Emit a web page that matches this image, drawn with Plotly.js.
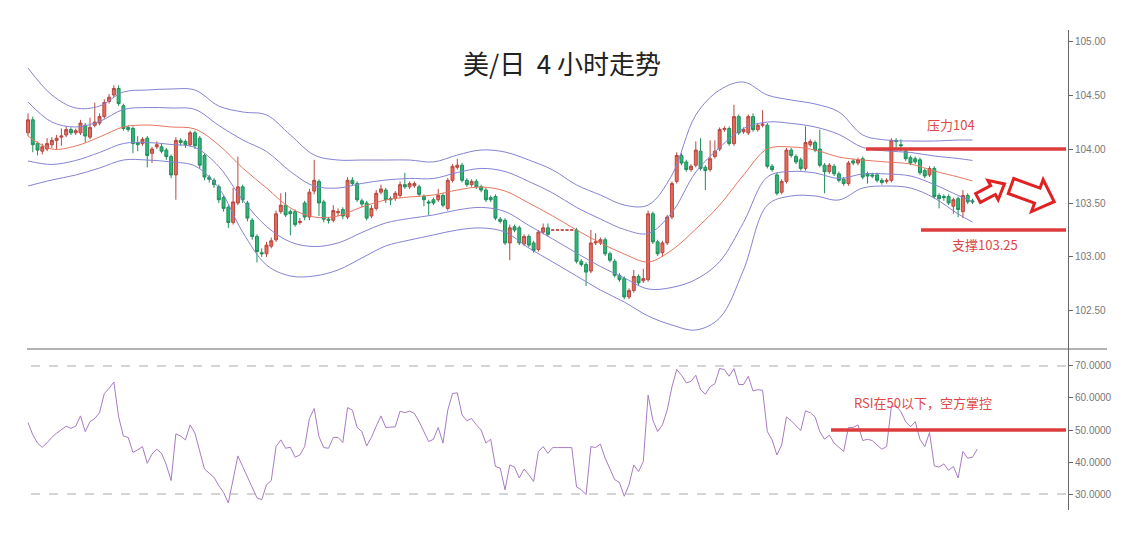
<!DOCTYPE html>
<html><head><meta charset="utf-8">
<script src="https://cdn.plot.ly/plotly-3.0.1.min.js"></script>
<style>html,body{margin:0;padding:0;background:#fff;} #chart{width:1127px;height:546px;}</style>
</head><body><div id="chart"></div>
<script>
// ---- 4h USD/JPY candles ----
const openP = [104.15,104.27,104.05,103.98,104.00,104.04,104.08,104.11,104.13,104.18,
104.15,104.15,104.22,104.11,104.22,104.24,104.30,104.44,104.50,104.56,
104.40,104.20,104.19,104.06,104.05,104.10,103.96,104.02,104.02,103.99,
103.93,103.76,104.08,104.07,104.04,104.15,104.10,103.94,103.74,103.71,
103.65,103.55,103.46,103.32,103.50,103.65,103.50,103.34,103.19,103.04,
103.03,103.10,103.16,103.42,103.48,103.42,103.42,103.32,103.50,103.37,
103.61,103.70,103.51,103.35,103.34,103.41,103.44,103.37,103.71,103.68,
103.52,103.50,103.38,103.45,103.60,103.62,103.54,103.54,103.57,103.67,
103.65,103.66,103.65,103.56,103.51,103.53,103.53,103.57,103.45,103.71,
103.83,103.85,103.71,103.67,103.70,103.65,103.62,103.55,103.56,103.35,
103.34,103.13,103.28,103.27,103.12,103.19,103.13,103.07,103.23,103.27,
103.25,103.25,103.25,103.25,103.25,103.25,102.96,102.93,102.87,103.13,
103.13,103.16,103.03,102.96,102.83,102.80,102.63,102.69,102.82,102.78,
102.79,103.40,103.14,103.04,103.13,103.37,103.70,103.94,103.88,103.81,
103.85,103.98,103.83,103.81,103.93,104.00,104.18,104.19,104.05,104.30,
104.16,104.15,104.30,104.18,104.22,104.22,103.84,103.76,103.60,103.70,
103.99,103.93,103.90,103.82,104.04,104.06,104.00,103.85,103.79,103.84,
103.77,103.72,103.68,103.89,103.87,103.91,103.77,103.76,103.76,103.71,
103.70,103.71,104.08,104.04,103.98,103.92,103.91,103.90,103.80,103.76,
103.82,103.57,103.56,103.56,103.47,103.54,103.42,103.57,103.52];
const highP = [104.33,104.30,104.07,104.05,104.10,104.11,104.13,104.19,104.21,104.20,
104.19,104.27,104.24,104.29,104.43,104.33,104.46,104.51,104.59,104.59,
104.42,104.22,104.21,104.12,104.11,104.12,104.02,104.07,104.05,104.01,
103.95,104.11,104.10,104.09,104.17,104.17,104.12,103.96,103.76,103.73,
103.67,103.57,103.48,103.64,103.93,103.67,103.52,103.36,103.21,103.08,
103.14,103.18,103.43,103.59,103.60,103.44,103.44,103.36,103.52,103.63,
103.90,103.72,103.53,103.37,103.48,103.45,103.46,103.74,103.74,103.70,
103.54,103.52,103.48,103.62,103.67,103.64,103.56,103.61,103.70,103.78,
103.70,103.70,103.67,103.58,103.53,103.55,103.63,103.59,103.73,103.86,
103.91,103.87,103.73,103.72,103.72,103.67,103.64,103.57,103.58,103.37,
103.36,103.30,103.30,103.29,103.21,103.21,103.15,103.25,103.31,103.31,
103.25,103.25,103.25,103.25,103.25,103.27,102.98,102.95,103.25,103.22,
103.18,103.18,103.05,102.98,102.85,102.82,102.71,102.88,102.84,102.89,
103.43,103.42,103.16,103.15,103.39,103.70,103.97,103.96,103.90,103.86,
104.07,104.10,103.85,104.08,104.08,104.20,104.21,104.21,104.41,104.32,
104.20,104.32,104.33,104.24,104.36,104.24,103.86,103.78,103.72,104.01,
104.01,103.95,103.92,104.21,104.09,104.08,104.18,103.87,103.87,103.86,
103.79,103.74,103.89,103.91,103.92,103.93,103.79,103.78,103.78,103.73,
103.73,104.10,104.10,104.09,104.00,103.94,103.93,103.92,103.82,103.84,
103.84,103.59,103.58,103.58,103.55,103.56,103.62,103.59,103.54];
const lowP = [104.12,103.97,103.94,103.95,103.98,104.01,103.99,104.03,104.11,104.13,
104.13,104.13,104.06,104.09,104.20,104.22,104.28,104.42,104.48,104.40,
104.17,104.16,103.96,103.98,104.03,103.83,103.87,104.00,103.96,103.90,
103.73,103.53,104.03,104.01,104.02,104.00,103.82,103.71,103.69,103.64,
103.50,103.42,103.27,103.30,103.48,103.50,103.33,103.16,102.95,103.00,
103.00,103.08,103.14,103.40,103.37,103.20,103.28,103.30,103.34,103.34,
103.58,103.38,103.32,103.31,103.32,103.38,103.35,103.35,103.66,103.51,
103.46,103.34,103.36,103.43,103.58,103.50,103.48,103.52,103.55,103.63,
103.63,103.64,103.56,103.47,103.39,103.48,103.51,103.46,103.43,103.69,
103.81,103.69,103.65,103.65,103.63,103.60,103.51,103.51,103.34,103.31,
103.11,102.97,103.23,103.11,103.10,103.09,103.04,103.05,103.21,103.19,
103.25,103.25,103.25,103.25,103.25,102.94,102.91,102.73,102.85,103.11,
103.11,103.01,102.95,102.81,102.77,102.61,102.61,102.67,102.74,102.76,
102.77,103.12,103.01,103.00,103.11,103.35,103.68,103.85,103.79,103.79,
103.83,103.80,103.62,103.79,103.91,103.98,104.16,104.03,104.03,104.13,
104.14,104.13,104.16,104.16,104.20,103.82,103.79,103.57,103.58,103.68,
103.92,103.86,103.80,103.80,104.02,103.97,103.83,103.59,103.77,103.75,
103.69,103.66,103.66,103.85,103.85,103.72,103.68,103.73,103.69,103.67,
103.68,103.69,103.99,103.98,103.89,103.85,103.86,103.76,103.73,103.74,
103.54,103.45,103.52,103.48,103.40,103.37,103.36,103.49,103.49];
const closeP = [104.27,104.04,103.99,104.02,104.05,104.08,104.10,104.12,104.18,104.15,
104.17,104.24,104.12,104.20,104.25,104.30,104.43,104.48,104.56,104.42,
104.19,104.18,104.05,104.04,104.09,103.94,104.00,104.04,103.98,103.93,
103.76,104.08,104.06,104.04,104.15,104.03,103.85,103.74,103.72,103.67,
103.53,103.45,103.32,103.51,103.65,103.53,103.36,103.19,103.05,103.03,
103.11,103.15,103.40,103.48,103.39,103.40,103.30,103.33,103.37,103.60,
103.71,103.50,103.35,103.34,103.43,103.42,103.38,103.71,103.68,103.53,
103.49,103.36,103.45,103.59,103.63,103.53,103.53,103.59,103.67,103.65,
103.68,103.68,103.58,103.53,103.50,103.50,103.57,103.48,103.71,103.84,
103.85,103.71,103.67,103.70,103.65,103.62,103.53,103.53,103.36,103.33,
103.13,103.27,103.25,103.13,103.19,103.11,103.06,103.23,103.27,103.21,
103.25,103.25,103.25,103.25,103.25,102.96,102.93,102.86,103.13,103.14,
103.16,103.03,102.97,102.83,102.79,102.63,102.69,102.82,102.76,102.80,
103.40,103.14,103.03,103.13,103.37,103.68,103.94,103.87,103.81,103.84,
103.99,103.82,103.80,103.91,103.98,104.18,104.19,104.05,104.30,104.15,
104.18,104.30,104.18,104.22,104.23,103.84,103.81,103.59,103.70,103.99,
103.94,103.88,103.82,104.06,104.07,103.99,103.85,103.79,103.85,103.77,
103.71,103.68,103.87,103.87,103.90,103.74,103.75,103.75,103.71,103.69,
103.71,104.08,104.07,104.03,103.91,103.87,103.88,103.78,103.75,103.82,
103.56,103.54,103.55,103.50,103.53,103.44,103.57,103.51,103.51];

// ---- bands (sampled at candle indices) ----
const bandIdx = [0,5,10,15,20,25,30,35,40,45,50,55,60,65,70,75,80,85,90,95,100,105,110,115,120,125,130,135,140,145,150,155,160,165,170,175,180,185,190,195,198];
const bbUpper2 = [104.750,104.500,104.380,104.398,104.528,104.546,104.556,104.546,104.398,104.343,104.315,104.130,103.944,103.898,103.898,103.898,103.898,103.880,103.944,103.991,103.972,103.898,103.806,103.667,103.574,103.481,103.481,103.759,104.315,104.546,104.620,104.500,104.454,104.417,104.343,104.130,104.083,104.074,104.074,104.083,104.083];
const bbUpper1 = [104.435,104.250,104.204,104.255,104.366,104.384,104.380,104.366,104.218,104.084,103.977,103.792,103.657,103.639,103.681,103.713,103.727,103.727,103.782,103.820,103.792,103.699,103.593,103.459,103.352,103.255,103.218,103.412,103.787,104.014,104.190,104.250,104.237,104.204,104.135,104.014,103.982,103.968,103.935,103.912,103.894];
const bbMid = [104.120,104.000,104.028,104.111,104.204,104.222,104.204,104.185,104.037,103.824,103.639,103.454,103.370,103.380,103.463,103.528,103.556,103.574,103.620,103.648,103.611,103.500,103.380,103.250,103.130,103.028,102.954,103.065,103.259,103.481,103.759,104.000,104.019,103.991,103.926,103.898,103.880,103.861,103.796,103.741,103.704];
const bbLower1 = [103.889,103.857,103.894,103.968,104.051,104.060,104.042,104.014,103.838,103.528,103.283,103.139,103.097,103.130,103.227,103.315,103.357,103.389,103.435,103.459,103.421,103.292,103.167,103.037,102.912,102.806,102.704,102.718,102.792,102.958,103.320,103.741,103.792,103.778,103.727,103.769,103.769,103.750,103.671,103.570,103.514];
const bbLower2 = [103.657,103.713,103.759,103.824,103.898,103.898,103.880,103.843,103.639,103.231,102.926,102.824,102.824,102.880,102.991,103.102,103.157,103.204,103.250,103.269,103.231,103.083,102.954,102.824,102.694,102.583,102.454,102.370,102.324,102.435,102.880,103.481,103.565,103.565,103.528,103.639,103.657,103.639,103.546,103.398,103.324];

// ---- RSI ----
const rsi = [52.3,48.5,45.9,44.6,46,47.7,49,50,51.2,50.5,
51.2,54.4,49.5,52.6,53.6,55.4,61.4,63,65,54.1,
48.1,47.7,43,43.8,44.8,39.6,42.5,44,42.7,39.1,
34.2,48.8,48.1,46.9,51.6,49,43.8,37.8,36.5,35.2,
32.6,30.5,27.2,34.5,41.9,38.6,35.3,31.6,28.8,28.2,
32.9,34.2,44.8,46.9,44.3,44.6,41.5,42.2,44.8,53.6,
56.7,47.9,44.5,44.3,47.7,47.7,46.1,57,56.2,50.8,
49.5,45,47.7,51.2,54.4,50.8,51,51,55.9,55.4,
55.9,55.2,52.6,49.5,46.4,47.1,50.8,45.9,56.2,61.4,
61.6,54.7,52.9,53.6,51.6,50,45.9,47.1,38.6,38.1,
31.3,39.1,38.4,35,37.8,36,33.9,43.3,44.8,42.7,
44.5,44.5,44.5,44.5,44.5,32.2,31.3,29.8,44.8,44.5,
45.6,41.2,38.1,34.5,33.6,29.3,32.9,39.1,37,40.2,
60.9,53.1,49.5,51.6,56.2,63.5,68.9,67.1,64.7,65.2,
67.1,62.6,61.2,63.5,64.5,69.2,68.9,66.8,69.2,64.2,
64.2,66.8,62.2,62.6,62.4,49.5,46.9,42.2,45.3,54.1,
52.9,51.2,49.8,56,55.4,54.1,49.5,47.1,48.4,45.9,
44.6,43.3,50.8,50.8,51.6,46.7,47.1,46.7,45.3,44,
44.8,57.3,57.5,55.7,52.6,51,52.6,47.1,44.8,49.2,
38.8,38.4,39.4,37.4,38.6,35,43.3,41.2,41.5,44];

const priceTicks = [102.5,103.0,103.5,104.0,104.5,105.0];
const rsiTicks = [30,40,50,60,70];
const resistance = 104.00, support = 103.25, rsiMid = 50;
const titleText = '美/日  4 小时走势';
const resText = '压力104', supText = '支撑103.25', rsiText = 'RSI在50以下，空方掌控';

const idx = closeP.map((_, i) => i);
const rsiIdx = rsi.map((_, i) => i);

// geometry
const W = 1127, H = 546, mL = 0, mR = 59, mT = 30, mB = 36;
const PW = W - mL - mR, PH = H - mT - mB;
const xRange = [-5.87, 218.03];
const splitY = 349;
const splitFrac = (H - mB - splitY) / PH;
const px2paperX = px => (px - mL) / PW;
const px2paperY = py => (H - mB - py) / PH;

const bandLine = (y, color, name) => ({
  type: 'scatter', mode: 'lines', x: bandIdx, y: y, xaxis: 'x', yaxis: 'y',
  line: {color: color, width: 1, shape: 'spline', smoothing: 1.0}, hoverinfo: 'skip', name: name
});
const purple = '#8583d3';

const traces = [
  bandLine(bbUpper2, purple, 'u2'),
  bandLine(bbUpper1, purple, 'u1'),
  bandLine(bbMid, '#e5765f', 'mid'),
  bandLine(bbLower1, purple, 'l1'),
  bandLine(bbLower2, purple, 'l2'),
  {
    type: 'candlestick', x: idx, open: openP, high: highP, low: lowP, close: closeP,
    xaxis: 'x', yaxis: 'y', whiskerwidth: 0,
    increasing: {line: {color: '#b9473f', width: 1}, fillcolor: '#e46a5e'},
    decreasing: {line: {color: '#1f8f5a', width: 1}, fillcolor: '#2fb57b'},
    hoverinfo: 'skip'
  },
  {
    type: 'scatter', mode: 'lines', x: rsiIdx, y: rsi, xaxis: 'x', yaxis: 'y2',
    line: {color: '#a77cc2', width: 1}, hoverinfo: 'skip'
  }
];

function arrowPath(tx, ty, angDeg, L, h, Hh, Lh) {
  const a = angDeg * Math.PI / 180, c = Math.cos(a), s = Math.sin(a);
  const pts = [[0,-h],[L-Lh,-h],[L-Lh,-Hh],[L,0],[L-Lh,Hh],[L-Lh,h],[0,h]];
  return pts.map((p, k) => {
    const X = tx + p[0]*c - p[1]*s, Y = ty + p[0]*s + p[1]*c;
    return (k ? 'L' : 'M') + px2paperX(X).toFixed(5) + ',' + px2paperY(Y).toFixed(5);
  }).join(' ') + ' Z';
}

const red = '#dc3c3c';
const shapes = [
  {type:'line', xref:'paper', yref:'paper', x0: px2paperX(27), x1: px2paperX(1107), y0: splitFrac, y1: splitFrac, line:{color:'#666', width:1}},
  {type:'line', xref:'paper', yref:'y2', x0: px2paperX(31), x1: 1, y0: 70, y1: 70, line:{color:'#aaa', width:1, dash:'dash'}},
  {type:'line', xref:'paper', yref:'y2', x0: px2paperX(31), x1: 1, y0: 30, y1: 30, line:{color:'#aaa', width:1, dash:'dash'}},
  {type:'line', xref:'paper', yref:'y', x0: px2paperX(866), x1: px2paperX(1066), y0: resistance, y1: resistance, line:{color:red, width:3.5}},
  {type:'line', xref:'paper', yref:'y', x0: px2paperX(921), x1: px2paperX(1066), y0: support, y1: support, line:{color:red, width:3.5}},
  {type:'line', xref:'paper', yref:'y2', x0: px2paperX(831), x1: px2paperX(1066), y0: rsiMid, y1: rsiMid, line:{color:red, width:3.5}},
  {type:'path', xref:'paper', yref:'paper', path: arrowPath(978, 198, -28, 30, 5, 11, 13), line:{color:'#e02222', width:3}, fillcolor:'rgba(255,255,255,0.9)'},
  {type:'path', xref:'paper', yref:'paper', path: arrowPath(1011, 186, 20, 46, 8, 17, 18), line:{color:'#e02222', width:3}, fillcolor:'rgba(255,255,255,0.9)'}
];

const cjk = '"Noto Sans CJK SC", "Noto Sans", sans-serif';
const annotations = [
  {xref:'paper', yref:'paper', x: px2paperX(951), y: px2paperY(125), text: resText, showarrow:false, xanchor:'center', yanchor:'middle', font:{family:cjk, size:13, color:'#e04848'}},
  {xref:'paper', yref:'paper', x: px2paperX(985), y: px2paperY(245), text: supText, showarrow:false, xanchor:'center', yanchor:'middle', font:{family:cjk, size:13, color:'#e04848'}},
  {xref:'paper', yref:'paper', x: px2paperX(923), y: px2paperY(402), text: rsiText, showarrow:false, xanchor:'center', yanchor:'middle', font:{family:cjk, size:13, color:'#e04848'}}
];

const axisCommon = {
  side:'right', anchor:'x', showline:true, linecolor:'#666', linewidth:1,
  ticks:'outside', ticklen:4, tickcolor:'#666', showgrid:false, zeroline:false,
  tickfont:{family:'"Liberation Sans", Arial, sans-serif', size:10, color:'#777'}, fixedrange:true
};

const layout = {
  width: W, height: H, margin: {l: mL, r: mR, t: mT, b: mB},
  paper_bgcolor:'#fff', plot_bgcolor:'#fff', showlegend:false,
  boxgap: 0.12,
  title: {text: titleText, xref:'container', yref:'container', x: 562/W, y: 1 - 65/H, xanchor:'center', yanchor:'middle',
          font:{family:cjk, size:26, color:'#222'}},
  xaxis: {domain:[0,1], range:xRange, visible:false, rangeslider:{visible:false}, anchor:'y2', fixedrange:true},
  yaxis: Object.assign({}, axisCommon, {domain:[splitFrac, 1], range:[102.148, 105.102], tickvals: priceTicks, tickformat:'.2f'}),
  yaxis2: Object.assign({}, axisCommon, {domain:[0, splitFrac], range:[25, 75.31], tickvals: rsiTicks, tickformat:'.4f'}),
  shapes: shapes, annotations: annotations
};

Plotly.newPlot('chart', traces, layout, {displayModeBar:false, staticPlot:true});
</script>
</body></html>
